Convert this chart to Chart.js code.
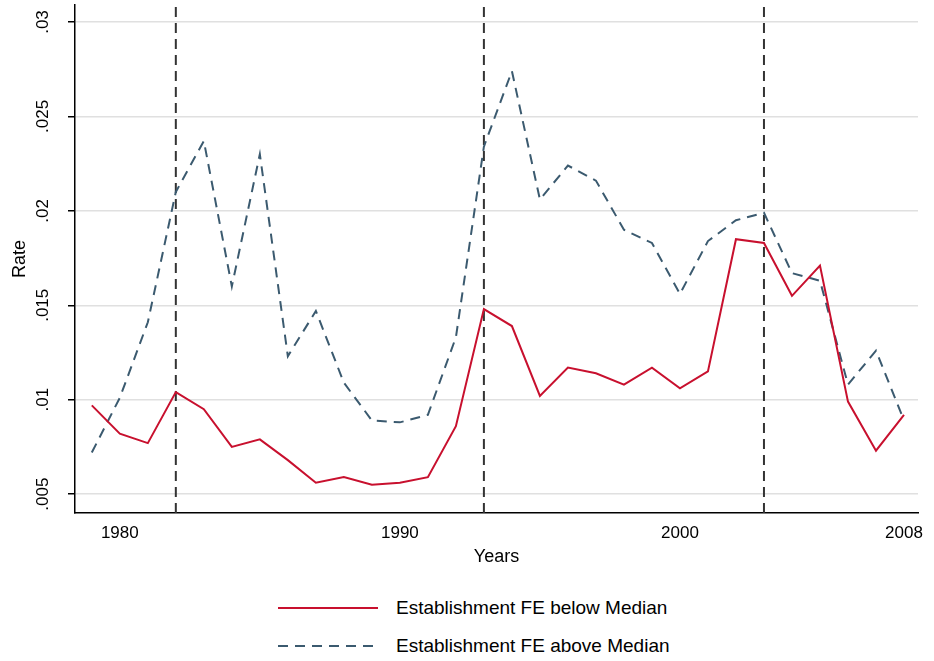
<!DOCTYPE html>
<html><head><meta charset="utf-8">
<script src="https://cdn.jsdelivr.net/npm/chart.js@4"></script>
<style>
body{margin:0;background:#fff;font-family:"Liberation Sans",Arial,sans-serif;}
#wrap{position:relative;width:934px;height:572px;}
#leg{position:absolute;left:0;top:590px;width:934px;font-size:19px;color:#000;}
.row{position:absolute;left:278px;height:24px;display:flex;align-items:center;}
.row span{margin-left:18px;}
</style></head><body>
<div id="wrap"><canvas id="c"></canvas></div>
<div id="leg">
<div class="row" style="top:6px"><svg width="100" height="4"><line x1="0" y1="2" x2="100" y2="2" stroke="#c8102e" stroke-width="2"/></svg><span>Establishment FE below Median</span></div>
<div class="row" style="top:44px"><svg width="100" height="4"><line x1="0" y1="2" x2="100" y2="2" stroke="#3b5a6f" stroke-width="2" stroke-dasharray="10,7"/></svg><span>Establishment FE above Median</span></div>
</div>
<script>
const years=[1979,1980,1981,1982,1983,1984,1985,1986,1987,1988,1989,1990,1991,1992,1993,1994,1995,1996,1997,1998,1999,2000,2001,2002,2003,2004,2005,2006,2007,2008];
const below=[0.0097,0.0082,0.0077,0.0104,0.0095,0.0075,0.0079,0.0068,0.0056,0.0059,0.0055,0.0056,0.0059,0.0086,0.0148,0.0139,0.0102,0.0117,0.0114,0.0108,0.0117,0.0106,0.0115,0.0185,0.0183,0.0155,0.0171,0.0099,0.0073,0.0092];
const above=[0.0072,0.0101,0.0141,0.0210,0.0237,0.0160,0.0230,0.0123,0.0147,0.0109,0.0089,0.0088,0.0092,0.0133,0.0234,0.0274,0.0206,0.0224,0.0216,0.0190,0.0183,0.0156,0.0184,0.0195,0.0199,0.0167,0.0163,0.0108,0.0126,0.0089];
const recessions=[1982,1993,2003];
const xTicks=[1980,1990,2000,2008];
const yTicks=[0.005,0.01,0.015,0.02,0.025,0.03];
const yLabels=['.005','.01','.015','.02','.025','.03'];
const yMin=0.004,yMax=0.0309;
const ds=[
{data:years.map((y,i)=>({x:y,y:below[i]})),borderColor:'#c8102e',borderWidth:2,pointRadius:0,tension:0},
{data:years.map((y,i)=>({x:y,y:above[i]})),borderColor:'#3b5a6f',borderWidth:2,borderDash:[10,7],pointRadius:0,tension:0}
];
recessions.forEach(r=>ds.push({data:[{x:r,y:yMin},{x:r,y:yMax}],borderColor:'#333',borderWidth:2,borderDash:[10,6],pointRadius:0}));
const yLab={id:'yLab',afterDraw(ch){const c=ch.ctx,s=ch.scales.y;c.save();c.fillStyle='#000';c.textAlign='center';c.textBaseline='middle';
 c.font='17px "Liberation Sans"';
 yTicks.forEach((v,i)=>{c.save();c.translate(43,s.getPixelForValue(v));c.rotate(-Math.PI/2);c.fillText(yLabels[i],0,0);c.restore();});
 c.font='18px "Liberation Sans"';c.translate(20,(s.top+s.bottom)/2);c.rotate(-Math.PI/2);c.fillText('Rate',0,0);c.restore();}};
new Chart(document.getElementById('c'),{type:'line',data:{datasets:ds},plugins:[yLab],
options:{responsive:true,maintainAspectRatio:false,animation:false,
layout:{padding:{top:5,right:16,left:0}},
plugins:{legend:{display:false},tooltip:{enabled:false}},
scales:{
x:{type:'linear',min:1978.4,max:2008.5,afterBuildTicks:s=>{s.ticks=xTicks.map(v=>({value:v}))},
 ticks:{color:'#000',font:{size:17,family:'Liberation Sans'},callback:v=>String(v)},
 grid:{display:false,drawTicks:true,tickLength:7,color:'#000'},border:{color:'#000',width:1.5},
 title:{display:true,text:'Years',color:'#000',font:{size:18,family:'Liberation Sans'},padding:{top:0}}},
y:{min:yMin,max:yMax,afterBuildTicks:s=>{s.ticks=yTicks.map(v=>({value:v}))},afterFit:s=>{s.width=75},
 ticks:{display:false},
 grid:{color:'#e0e0e0',lineWidth:1.5,tickColor:'#000',tickLength:7},border:{color:'#000',width:1.5}}
}}});
</script></body></html>
